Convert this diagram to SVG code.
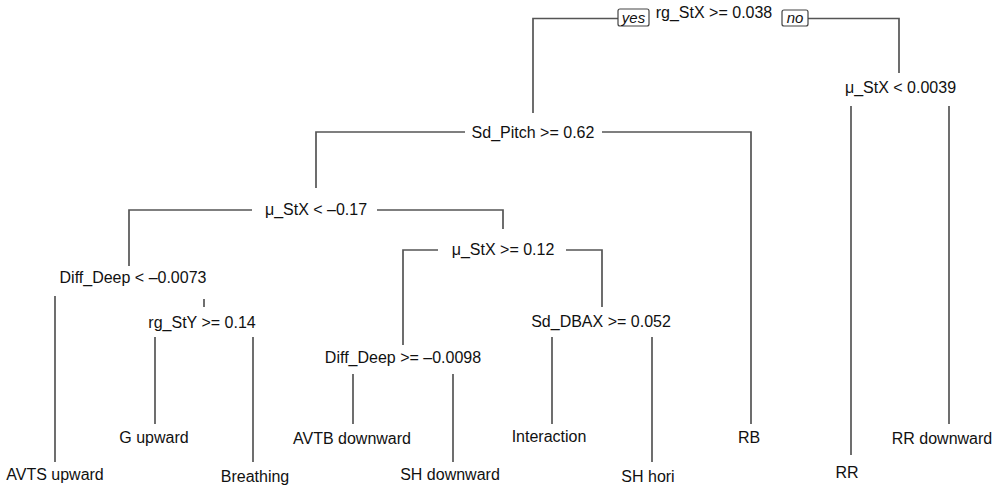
<svg xmlns="http://www.w3.org/2000/svg" width="994" height="486" viewBox="0 0 994 486">
<style>
  .edge { stroke: #555; stroke-width: 1.7; fill: none; stroke-linecap: butt; }
  .lbl { font-family: "Liberation Sans", Arial, sans-serif; font-size: 16px; fill: #111; text-anchor: middle; }
  .tag { font-family: "Liberation Sans", Arial, sans-serif; font-size: 15px; font-style: italic; fill: #111; text-anchor: middle; }
  .box { fill: #fff; stroke: #444; stroke-width: 1.2; }
</style>
<rect width="994" height="486" fill="#fff"/>
<g id="connectors">
  <path class="edge" d="M618,18.5 H533 V113"/>
  <path class="edge" d="M808,18.5 H899 V73"/>
  <path class="edge" d="M851,106 V455"/>
  <path class="edge" d="M949,106 V424"/>
  <path class="edge" d="M465,132 H316 V188"/>
  <path class="edge" d="M602,132 H751 V424"/>
  <path class="edge" d="M252,210 H129 V266"/>
  <path class="edge" d="M377,210 H503 V229"/>
  <path class="edge" d="M55,296 V462"/>
  <path class="edge" d="M204,299 V307"/>
  <path class="edge" d="M155,337 V424"/>
  <path class="edge" d="M253,337 V462"/>
  <path class="edge" d="M438,250 H403 V345"/>
  <path class="edge" d="M566,250 H602 V307"/>
  <path class="edge" d="M353,374 V424"/>
  <path class="edge" d="M453,374 V462"/>
  <path class="edge" d="M552,337 V424"/>
  <path class="edge" d="M652,337 V462"/>
</g>
<g id="root">
  <text class="lbl" x="714" y="18">rg_StX &gt;= 0.038</text>
  <rect class="box" x="618" y="9" width="31" height="17" rx="2"/>
  <text class="tag" x="633.5" y="22.5">yes</text>
  <rect class="box" x="782" y="10" width="26" height="16" rx="2"/>
  <text class="tag" x="795" y="22.5">no</text>
</g>
<g id="n_mu_stx_0039"><text class="lbl" x="900.5" y="93">μ_StX &lt; 0.0039</text></g>
<g id="n_sd_pitch"><text class="lbl" x="533" y="138">Sd_Pitch &gt;= 0.62</text></g>
<g id="n_mu_stx_017"><text class="lbl" x="316" y="215">μ_StX &lt; –0.17</text></g>
<g id="n_diff_deep_0073"><text class="lbl" x="133" y="283">Diff_Deep &lt; –0.0073</text></g>
<g id="n_rg_sty"><text class="lbl" x="202" y="328">rg_StY &gt;= 0.14</text></g>
<g id="n_mu_stx_012"><text class="lbl" x="503" y="255">μ_StX &gt;= 0.12</text></g>
<g id="n_diff_deep_0098"><text class="lbl" x="403" y="363">Diff_Deep &gt;= –0.0098</text></g>
<g id="n_sd_dbax"><text class="lbl" x="601" y="327">Sd_DBAX &gt;= 0.052</text></g>
<g id="leaf_avts"><text class="lbl" x="55" y="480">AVTS upward</text></g>
<g id="leaf_g"><text class="lbl" x="154" y="443">G upward</text></g>
<g id="leaf_breathing"><text class="lbl" x="255" y="482">Breathing</text></g>
<g id="leaf_avtb"><text class="lbl" x="352" y="444">AVTB downward</text></g>
<g id="leaf_sh_down"><text class="lbl" x="450" y="480">SH downward</text></g>
<g id="leaf_interaction"><text class="lbl" x="549" y="442">Interaction</text></g>
<g id="leaf_sh_hori"><text class="lbl" x="648" y="482">SH hori</text></g>
<g id="leaf_rb"><text class="lbl" x="749" y="443">RB</text></g>
<g id="leaf_rr"><text class="lbl" x="847" y="478">RR</text></g>
<g id="leaf_rr_down"><text class="lbl" x="942" y="444">RR downward</text></g>
</svg>
